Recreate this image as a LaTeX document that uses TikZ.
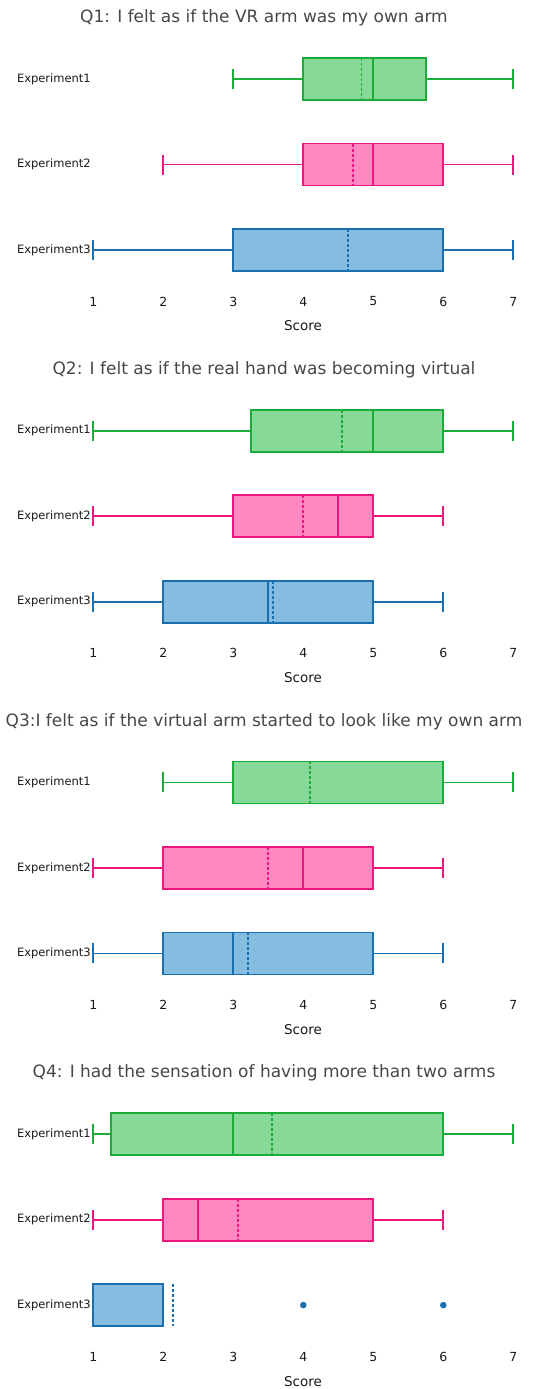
\documentclass[tikz,border=0pt]{standalone}
\usepackage{fontspec}
\setmainfont{DejaVu Sans}
\usetikzlibrary{positioning}
\definecolor{grnline}{RGB}{28,172,58}
\definecolor{grnfill}{RGB}{134,217,150}
\definecolor{pnkline}{RGB}{232,24,126}
\definecolor{pnkfill}{RGB}{255,136,192}
\definecolor{bluline}{RGB}{26,111,174}
\definecolor{blufill}{RGB}{132,189,224}
\tikzstyle{qtitle} = [font=\fontsize{17}{0}\selectfont, text=black!72, inner sep=0pt]
\tikzstyle{explab} = [anchor=east, font=\fontsize{11.5}{0}\selectfont, text=black!90, inner sep=0pt]
\tikzstyle{ticklab} = [font=\fontsize{12.5}{0}\selectfont, text=black!90, inner sep=0pt]
\tikzstyle{axlab} = [font=\fontsize{13.5}{0}\selectfont, text=black!90, inner sep=0pt]
\tikzstyle{boxline} = [line width=1.8pt]
\tikzstyle{meanline} = [line width=1.8pt, dash pattern=on 3pt off 2pt]
\newcommand{\yshiftpanel}[2]{
  \begin{scope}[yshift=#1]
    #2
  \end{scope}
}
\newcommand{\panelframe}[2]{
\node[qtitle] (#1-title) at (264,0) {#2};
\node[explab] (#1-e1) at (91,61) {Experiment1};
\node[explab] (#1-e2) at (91,146.5) {Experiment2};
\node[explab] (#1-e3) at (91,232) {Experiment3};
\foreach \v in {1,...,7}
  \node[ticklab] (#1-t\v) at ({sx(\v)},283.5) {\v};
\node[axlab] (#1-score) at (303,308) {Score};
}
% colour, row, low, q1, median, q3, high, mean
\newcommand{\scorebox}[8]{
\draw[boxline, #1line] ({sx(#3)},#2) -- ({sx(#4)},#2) ({sx(#6)},#2) -- ({sx(#7)},#2);
\draw[boxline, #1line] ({sx(#3)},{#2-10}) -- ({sx(#3)},{#2+10});
\draw[boxline, #1line] ({sx(#7)},{#2-10}) -- ({sx(#7)},{#2+10});
\filldraw[boxline, draw=#1line, fill=#1fill] ({sx(#4)},{#2-21}) rectangle ({sx(#6)},{#2+21});
\draw[boxline, #1line] ({sx(#5)},{#2-21}) -- ({sx(#5)},{#2+21});
\draw[meanline, #1line] ({sx(#8)},{#2-21}) -- ({sx(#8)},{#2+21});
}

\begin{document}
\begin{tikzpicture}[x=1pt, y=-1pt, declare function={sx(\v)=23.3+70*\v;}]
\useasboundingbox (0,0) rectangle (552,1389);

\yshiftpanel{-18pt}{
\panelframe{q1}{Q1: I felt as if the VR arm was my own arm}
\scorebox{grn}{61}{3}{4}{5}{5.75}{7}{4.83}
\scorebox{pnk}{146.5}{2}{4}{5}{6}{7}{4.71}
\scorebox{blu}{232}{1}{3}{6}{6}{7}{4.64}
}

\yshiftpanel{-369.7pt}{
\panelframe{q2}{Q2: I felt as if the real hand was becoming virtual}
\scorebox{grn}{61}{1}{3.25}{5}{6}{7}{4.55}
\scorebox{pnk}{146.5}{1}{3}{4.5}{5}{6}{4}
\scorebox{blu}{232}{1}{2}{3.5}{5}{6}{3.57}
}

\yshiftpanel{-721.4pt}{
\panelframe{q3}{Q3:I felt as if the virtual arm started to look like my own arm}
\scorebox{grn}{61}{2}{3}{3}{6}{7}{4.1}
\scorebox{pnk}{146.5}{1}{2}{4}{5}{6}{3.5}
\scorebox{blu}{232}{1}{2}{3}{5}{6}{3.21}
}

\yshiftpanel{-1073.1pt}{
\panelframe{q4}{Q4: I had the sensation of having more than two arms}
\scorebox{grn}{61}{1}{1.25}{3}{6}{7}{3.55}
\scorebox{pnk}{146.5}{1}{2}{2.5}{5}{6}{3.07}
\scorebox{blu}{232}{1}{1}{2}{2}{2}{2.14}
\fill[bluline] ({sx(4)},232) circle (3.3pt) ({sx(6)},232) circle (3.3pt);
}
\end{tikzpicture}
\end{document}
